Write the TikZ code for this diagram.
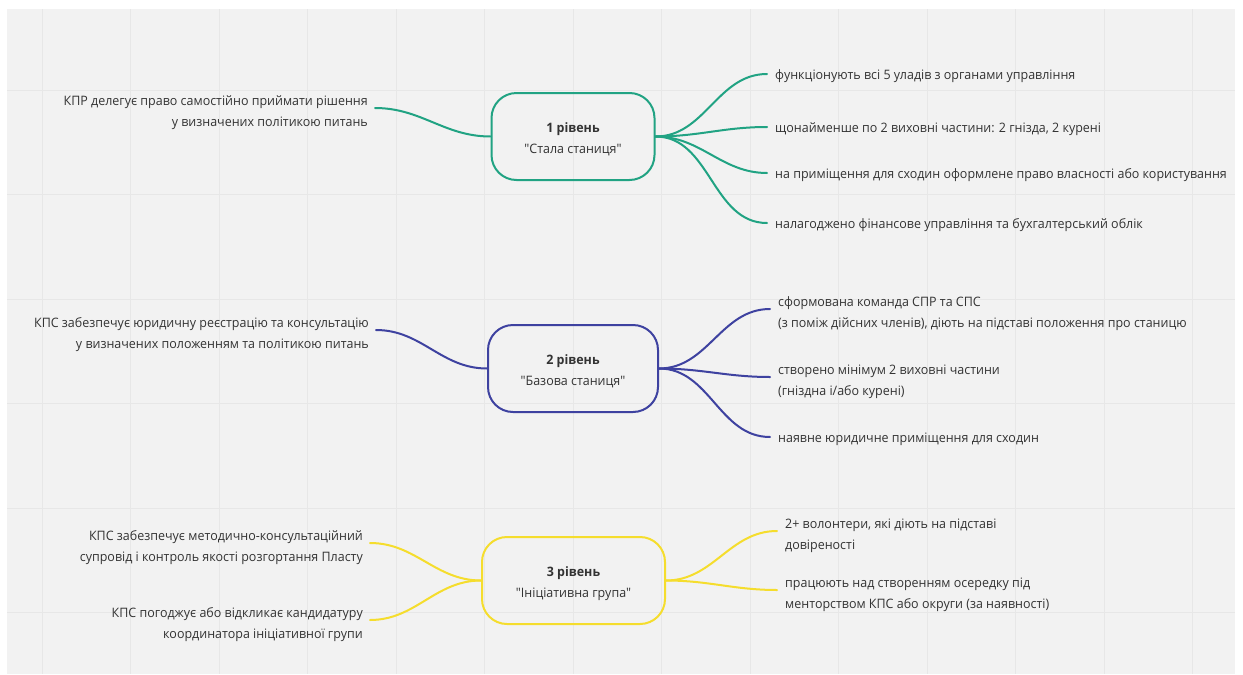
\documentclass[tikz,border=0pt]{standalone}
\usepackage{fontspec}
\setmainfont{Open Sans}[FakeStretch=0.96, Ligatures=TeXOff]

\definecolor{lvlgreen}{RGB}{33,163,131}
\definecolor{lvlblue}{RGB}{62,66,160}
\definecolor{lvlyellow}{RGB}{245,221,45}
\definecolor{txtgrey}{RGB}{51,51,51}
\definecolor{boardgrey}{RGB}{242,242,242}
\definecolor{gridgrey}{RGB}{231,231,231}

\begin{document}
\begin{tikzpicture}[x=1pt,y=1pt,
        every node/.style={font=\fontsize{13}{21}\selectfont, text=txtgrey},
        level/.style={draw=#1, line width=2pt, rounded corners=25pt, align=center, minimum height=87pt, inner sep=0pt, text height=37pt, text depth=3pt},
        ltext/.style={anchor=east, align=right, inner xsep=7pt, inner ysep=0pt, yshift=-5pt},
        rtext/.style={anchor=west, align=left, inner xsep=8pt, inner ysep=0pt, yshift=-#1pt},
        rtext/.default=5,
        branch/.style={draw=#1, line width=2pt, line cap=round}]
        \useasboundingbox (0,0) rectangle (1243,-675);
        \fill [boardgrey] (7,-9) rectangle (1235,-674);
        \foreach \gx in {0,...,13}
            \draw [gridgrey, line width=1pt] (42+88.5*\gx,-9) -- (42+88.5*\gx,-674);
        \foreach \gy in {0,...,5}
            \draw [gridgrey, line width=1pt] (7,-90-104.5*\gy) -- (1235,-90-104.5*\gy);

        \node [level=lvlgreen, minimum width=163pt] (l1) at (573,-136.5) {\textbf{1 рівень}\\"Стала станиця"};
        \node [ltext] (l1a) at (375,-108) {КПР делегує право самостійно приймати рішення\\у визначених політикою питань};
        \node [rtext=2] (l1b) at (767,-74) {функціонують всі 5 уладів з органами управління};
        \node [rtext=2] (l1c) at (767,-127) {щонайменше по 2 виховні частини: 2 гнізда, 2 курені};
        \node [rtext=2] (l1d) at (767,-173) {на приміщення для сходин оформлене право власності або користування};
        \node [rtext=2] (l1e) at (767,-223) {налагоджено фінансове управління та бухгалтерський облік};
        \draw [branch=lvlgreen] ([yshift=5pt]l1a.east) to[out=0,in=180] (l1.west);
        \foreach \t in {b,c,d,e}
            \draw [branch=lvlgreen] (l1.east) to[out=0,in=180] ([yshift=2pt]l1\t.west);

        \node [level=lvlblue, minimum width=170pt] (l2) at (573,-368.5) {\textbf{2 рівень}\\"Базова станиця"};
        \node [ltext] (l2a) at (376,-330) {КПС забезпечує юридичну реєстрацію та консультацію\\у визначених положенням та політикою питань};
        \node [rtext] (l2b) at (770,-309) {сформована команда СПР та СПС\\(з поміж дійсних членів), діють на підставі положення про станицю};
        \node [rtext] (l2c) at (770,-377) {створено мінімум 2 виховні частини\\(гніздна і/або курені)};
        \node [rtext=2] (l2d) at (770,-437) {наявне юридичне приміщення для сходин};
        \draw [branch=lvlblue] ([yshift=5pt]l2a.east) to[out=0,in=180] (l2.west);
        \draw [branch=lvlblue] (l2.east) to[out=0,in=180] ([yshift=5pt]l2b.west);
        \draw [branch=lvlblue] (l2.east) to[out=0,in=180] ([yshift=5pt]l2c.west);
        \draw [branch=lvlblue] (l2.east) to[out=0,in=180] ([yshift=2pt]l2d.west);

        \node [level=lvlyellow, minimum width=183pt] (l3) at (573.5,-580.5) {\textbf{3 рівень}\\"Ініціативна група"};
        \node [ltext] (l3a) at (370,-543) {КПС забезпечує методично-консультаційний\\супровід і контроль якості розгортання Пласту};
        \node [ltext] (l3b) at (370,-620) {КПС погоджує або відкликає кандидатуру\\координатора ініціативної групи};
        \node [rtext] (l3c) at (777,-531) {2+ волонтери, які діють на підставі\\довіреності};
        \node [rtext] (l3d) at (777,-590) {працюють над створенням осередку під\\менторством КПС або округи (за наявності)};
        \foreach \t in {a,b}
            \draw [branch=lvlyellow] ([yshift=5pt]l3\t.east) to[out=0,in=180] (l3.west);
        \foreach \t in {c,d}
            \draw [branch=lvlyellow] (l3.east) to[out=0,in=180] ([yshift=5pt]l3\t.west);
\end{tikzpicture}
\end{document}
